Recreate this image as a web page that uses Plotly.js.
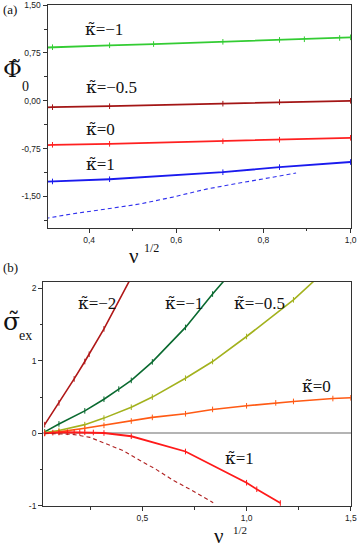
<!DOCTYPE html>
<html>
<head>
<meta charset="utf-8">
<script src="https://cdn.plot.ly/plotly-3.0.1.min.js"></script>
<style>html,body{margin:0;padding:0;background:#fff;}#chart{width:359px;height:549px;}</style>
</head>
<body>
<div id="chart"></div>
<script>
// ---------- Panel (a): Phi_0 vs nu^{1/2} ----------
const a_x_km1 = [0.30, 0.316, 0.447, 0.548, 0.707, 0.837, 0.894, 0.975, 1.0];
const a_y_km1 = [0.835, 0.84, 0.87, 0.89, 0.925, 0.955, 0.965, 0.985, 0.995];
const a_x_km05 = [0.30, 0.316, 0.447, 0.707, 0.837, 1.0];
const a_y_km05 = [-0.105, -0.10, -0.085, -0.045, -0.02, 0.0];
const a_x_k0 = [0.30, 0.316, 0.447, 0.707, 0.837, 1.0];
const a_y_k0 = [-0.695, -0.69, -0.675, -0.635, -0.61, -0.58];
const a_x_k1 = [0.30, 0.316, 0.447, 0.707, 0.837, 1.0];
const a_y_k1 = [-1.27, -1.265, -1.23, -1.12, -1.04, -0.96];
const a_x_k1_dash = [0.30, 0.363, 0.439, 0.516, 0.592, 0.669, 0.745, 0.821, 0.875];
const a_y_k1_dash = [-1.845, -1.771, -1.697, -1.619, -1.51, -1.385, -1.29, -1.196, -1.133];

const a_xticks = [0.4, 0.6, 0.8, 1.0];
const a_xticktext = ['0,4', '0,6', '0,8', '1,0'];
const a_xminor = [0.3, 0.5, 0.7, 0.9];
const a_yticks = [1.5, 0.75, 0, -0.75, -1.5];
const a_yticktext = ['1,50', '0,75', '0,00', '-0,75', '-1,50'];
const a_yminor = [1.125, 0.375, -0.375, -1.125, -1.875];

// ---------- Panel (b): sigma_ex vs nu^{1/2} ----------
const b_x_km2 = [0.0316, 0.1, 0.173, 0.224, 0.245, 0.316, 0.447];
const b_y_km2 = [0.12, 0.42, 0.75, 0.99, 1.09, 1.44, 2.15];
const b_x_km1 = [0.0316, 0.1, 0.224, 0.316, 0.387, 0.447, 0.548, 0.707, 0.837, 0.9];
const b_y_km1 = [0.02, 0.13, 0.31, 0.47, 0.61, 0.73, 0.985, 1.46, 1.92, 2.13];
const b_x_km05 = [0.0316, 0.1, 0.224, 0.316, 0.447, 0.548, 0.707, 0.837, 1.0, 1.225, 1.35];
const b_y_km05 = [0.01, 0.04, 0.12, 0.21, 0.36, 0.50, 0.76, 0.99, 1.335, 1.84, 2.17];
const b_x_k0 = [0.0316, 0.1, 0.224, 0.316, 0.447, 0.548, 0.707, 0.837, 1.0, 1.14, 1.225, 1.414, 1.5];
const b_y_k0 = [0.0, 0.02, 0.07, 0.11, 0.17, 0.22, 0.27, 0.33, 0.38, 0.42, 0.44, 0.48, 0.49];
const b_x_k1 = [0.0316, 0.0707, 0.1, 0.141, 0.173, 0.2, 0.224, 0.265, 0.316, 0.447, 0.707, 1.0, 1.049, 1.162];
const b_y_k1 = [0.0, 0.01, 0.012, 0.015, 0.015, 0.015, 0.015, 0.012, 0.005, -0.04, -0.25, -0.68, -0.77, -0.96];
const b_x_k1_dash = [0.0316, 0.1, 0.166, 0.249, 0.327, 0.409, 0.487, 0.568, 0.647, 0.728, 0.84];
const b_y_k1_dash = [0.0, -0.005, -0.014, -0.055, -0.14, -0.24, -0.37, -0.50, -0.645, -0.77, -0.955];

const b_xticks = [0.5, 1.0, 1.5];
const b_xticktext = ['0,5', '1,0', '1,5'];
const b_xminor = [0.25, 0.75, 1.25];
const b_yticks = [2, 1, 0, -1];
const b_yticktext = ['2', '1', '0', '-1'];
const b_yminor = [1.5, 0.5, -0.5];

// curve labels: kappa-tilde = value
const a_label_vals = ['−1', '−0.5', '0', '1'];
const a_label_x = [0.386, 0.388, 0.388, 0.388];
const a_label_y = [1.13, 0.215, -0.445, -0.995];
const b_label_vals = ['−2', '−1', '−0.5', '0', '1'];
const b_label_x = [0.182, 0.599, 0.929, 1.256, 0.887];
const b_label_y = [1.79, 1.79, 1.79, 0.65, -0.34];

const W = 359, H = 549;
const PX = p => p / W;
const PY = p => 1 - p / H;

function solid(x, y, color, xa, ya, w) {
  return {x, y, xaxis: xa, yaxis: ya, mode: 'lines+markers', type: 'scatter',
    line: {color, width: w || 1.8},
    marker: {symbol: 'line-ns', size: 4, line: {color, width: 1}, color}};
}
function dashed(x, y, color, xa, ya) {
  return {x, y, xaxis: xa, yaxis: ya, mode: 'lines', type: 'scatter',
    line: {color, width: 1.1, dash: '4px,3px'}};
}

const data = [
  solid(a_x_km1, a_y_km1, '#33cc33', 'x', 'y'),
  solid(a_x_km05, a_y_km05, '#a31515', 'x', 'y'),
  solid(a_x_k0, a_y_k0, '#ff2020', 'x', 'y'),
  solid(a_x_k1, a_y_k1, '#1a1aee', 'x', 'y'),
  dashed(a_x_k1_dash, a_y_k1_dash, '#3030ee', 'x', 'y'),
  solid(b_x_km2, b_y_km2, '#b01818', 'x2', 'y2', 1.6),
  solid(b_x_km1, b_y_km1, '#0a6a30', 'x2', 'y2', 1.6),
  solid(b_x_km05, b_y_km05, '#a3b21e', 'x2', 'y2', 1.6),
  solid(b_x_k0, b_y_k0, '#ff5a14', 'x2', 'y2', 1.6),
  solid(b_x_k1, b_y_k1, '#ff1a1a', 'x2', 'y2', 1.8),
  dashed(b_x_k1_dash, b_y_k1_dash, '#b02020', 'x2', 'y2')
];

const tickfont = {family: "'Liberation Sans', Arial, sans-serif", size: 8.5, color: '#222'};
function axis(extra) {
  return Object.assign({
    showline: true, linecolor: '#333', linewidth: 1.2, mirror: true,
    ticks: 'outside', ticklen: 4, tickwidth: 1, tickcolor: '#333',
    showgrid: false, zeroline: false, tickfont, tickmode: 'array', fixedrange: true
  }, extra);
}
function minor(vals) {
  return {tickmode: 'array', tickvals: vals, ticks: 'outside', ticklen: 2.5, tickwidth: 1, tickcolor: '#333', showgrid: false};
}

const serif = "'Liberation Serif', 'Times New Roman', serif";
// base letter + combining tilde, drawn in a font with mark positioning
const tl = sym => '<span style="font-family:\'DejaVu Serif\'">' + sym + '\u0303</span>';
const annotations = [];
function curveLabel(xref, yref, x, y, v) {
  annotations.push({xref, yref, x, y, text: tl('κ') + '=' + v, showarrow: false, xanchor: 'left', yanchor: 'middle',
    align: 'left', font: {family: serif, size: 17, color: '#111'}});
}
a_label_vals.forEach((v, i) => curveLabel('x', 'y', a_label_x[i], a_label_y[i], v));
b_label_vals.forEach((v, i) => curveLabel('x2', 'y2', b_label_x[i], b_label_y[i], v));

function ptext(text, px, py, size, xanchor) {
  annotations.push({xref: 'paper', yref: 'paper', x: PX(px), y: PY(py), text, showarrow: false,
    xanchor: xanchor || 'left', yanchor: 'middle', align: 'left', font: {family: serif, size, color: '#111'}});
}
ptext('(a)', 1, 9, 13);
ptext('(b)', 1, 267, 13);
ptext(tl('Φ'), 1, 69, 23);
ptext('0', 20, 87, 14);
ptext(tl('σ'), 1, 321, 25);
ptext('ex', 17, 335, 14);
ptext('ν', 127, 256, 21);
ptext('1/2', 142, 248, 12);
ptext('ν', 212, 536, 21);
ptext('1/2', 231, 530, 11);

const layout = {
  width: W, height: H, margin: {l: 0, r: 0, t: 0, b: 0, pad: 0},
  paper_bgcolor: '#fff', plot_bgcolor: '#fff', showlegend: false,
  xaxis: axis({domain: [PX(47.7), PX(351)], anchor: 'y', range: [0.305, 1.001],
    tickvals: a_xticks, ticktext: a_xticktext, minor: minor(a_xminor)}),
  yaxis: axis({domain: [PY(227.7), PY(5)], anchor: 'x', range: [-1.99, 1.502],
    tickvals: a_yticks, ticktext: a_yticktext, minor: minor(a_yminor)}),
  xaxis2: axis({domain: [PX(43.3), PX(351)], anchor: 'y2', range: [0.025, 1.501],
    tickvals: b_xticks, ticktext: b_xticktext, minor: minor(b_xminor)}),
  yaxis2: axis({domain: [PY(506), PY(281.7)], anchor: 'x2', range: [-1.001, 2.09],
    tickvals: b_yticks, ticktext: b_yticktext, minor: minor(b_yminor),
    zeroline: true, zerolinecolor: '#b4b4b4', zerolinewidth: 2}),
  annotations
};

Plotly.newPlot('chart', data, layout, {displayModeBar: false, staticPlot: true});
</script>
</body>
</html>
